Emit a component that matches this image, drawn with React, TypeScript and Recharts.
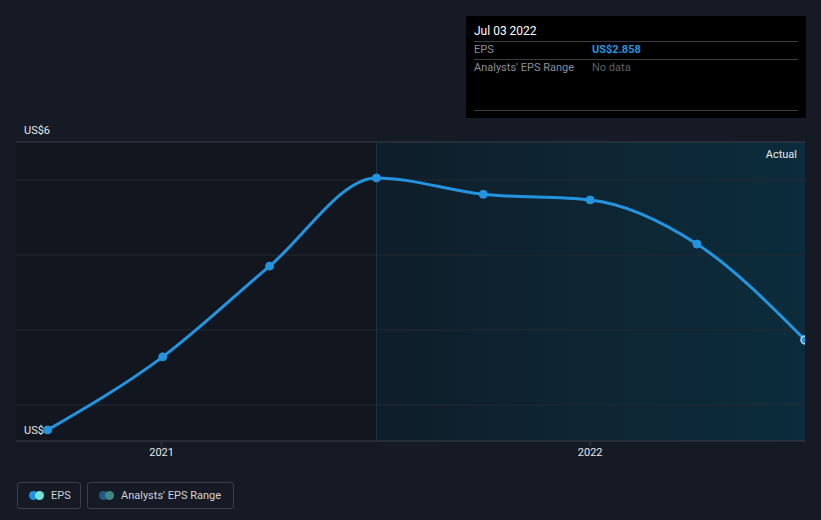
import React from "react";
import {
  ComposedChart, Line, XAxis, YAxis, ReferenceLine, ReferenceArea,
} from "recharts";

const dates = [
  "2020-09-26", "2021-01-02", "2021-04-03", "2021-07-03",
  "2021-10-02", "2022-01-01", "2022-04-02", "2022-07-03",
];
const eps = [1.43, 2.59, 4.03, 5.43, 5.17, 5.08, 4.38, 2.858];
const yearTicks = ["2021-01-01", "2022-01-01"];
const gridValues = [1.825, 3.016, 4.206, 5.397];

const ts = (d: string) => Date.parse(d + "T00:00:00Z");
const data = dates.map((d, i) => ({ t: ts(d), eps: eps[i] }));

const X_MIN = ts("2020-08-30");
const X_MAX = ts("2022-07-03");
const X_SPLIT = ts("2021-07-03");
const Y_MIN = 1.254;
const Y_MAX = 6;

const C = {
  page: "#151a24",
  past: "#12161f",
  line: "#2394df",
  grid: "#232a33",
  top: "#3a3f48",
  text: "#e6e8ea",
  dim: "#8a8f96",
};

const FONT = "Roboto, 'Open Sans', sans-serif";

function EpsDot(props: any) {
  const { cx, cy, index } = props;
  if (index === data.length - 1)
    return <circle key={`d-${index}`} cx={cx} cy={cy} r={4} fill={C.line} stroke="#a8dcf8" strokeWidth={1.5} />;
  return <circle key={`d-${index}`} cx={cx} cy={cy} r={4} fill={C.line} stroke={C.line} strokeWidth={1} />;
}

const legendBox: React.CSSProperties = {
  height: 27, border: "1px solid #3a3f4a", borderRadius: 3, boxSizing: "border-box",
  display: "flex", alignItems: "center", paddingLeft: 11, color: "#d0d3d7", whiteSpace: "nowrap",
};

function Swatch({ a, b }: { a: string; b: string }) {
  return (
    <span style={{ position: "relative", width: 16, height: 9, marginRight: 6, flex: "none" }}>
      <span style={{ position: "absolute", left: 0, top: 0, width: 9, height: 9, borderRadius: 5, background: a }} />
      <span style={{ position: "absolute", left: 6, top: 0, width: 9, height: 9, borderRadius: 5, background: b }} />
    </span>
  );
}

export default function App() {
  return (
    <div style={{ position: "absolute", left: 0, top: 0, width: 821, height: 520, background: C.page, fontFamily: FONT, overflow: "hidden" }}>
      <ComposedChart width={821} height={520} data={data} margin={{ top: 142, right: 16, bottom: 49, left: 16 }}>
        <defs>
          <linearGradient id="fut" x1="0" y1="0" x2="1" y2="0">
            <stop offset="0%" stopColor="#0f1e2a" />
            <stop offset="100%" stopColor="#0c2c3b" />
          </linearGradient>
        </defs>
        <XAxis dataKey="t" type="number" scale="time" domain={[X_MIN, X_MAX]} allowDataOverflow
          ticks={yearTicks.map(ts)} tickFormatter={(v) => String(new Date(v).getUTCFullYear())}
          height={30} tick={{ fill: C.text, fontSize: 11, fontFamily: FONT }}
          axisLine={{ stroke: C.top }} tickLine={{ stroke: C.top }} tickSize={5} />
        <YAxis hide type="number" domain={[Y_MIN, Y_MAX]} allowDataOverflow />
        <ReferenceArea x1={X_MIN} x2={X_SPLIT} y1={Y_MIN} y2={Y_MAX} fill={C.past} fillOpacity={1} stroke="none" />
        <ReferenceArea x1={X_SPLIT} x2={X_MAX} y1={Y_MIN} y2={Y_MAX} fill="url(#fut)" fillOpacity={1} stroke="none" />
        {gridValues.map((v) => (
          <ReferenceLine key={v} y={v} stroke={C.grid} strokeWidth={1} />
        ))}
        <ReferenceLine x={X_SPLIT} stroke="#173846" strokeWidth={1} />
        <ReferenceLine y={Y_MAX} stroke={C.top} strokeWidth={1}
          label={(p: any) => (
            <g>
              <text x={p.viewBox.x + 8} y={p.viewBox.y - 8} fill={C.text} fontSize={11} fontFamily={FONT}>US$6</text>
              <text x={p.viewBox.x + p.viewBox.width - 8} y={p.viewBox.y + 16} fill={C.text} fontSize={11} fontFamily={FONT} textAnchor="end">Actual</text>
            </g>
          )} />
        <ReferenceLine y={Y_MIN} stroke="none"
          label={(p: any) => (
            <text x={p.viewBox.x + 8} y={p.viewBox.y - 7} fill={C.text} fontSize={11} fontFamily={FONT}>US$1</text>
          )} />
        <Line type="monotone" dataKey="eps" stroke={C.line} strokeWidth={3} dot={EpsDot}
          activeDot={false} isAnimationActive={false} />
      </ComposedChart>

      {/* tooltip box */}
      <div style={{ position: "absolute", left: 466, top: 16, width: 340, height: 102, background: "#000", boxSizing: "border-box", padding: "0 8px", fontSize: 11 }}>
        <div style={{ color: "#fff", fontSize: 12, marginTop: 8, height: 17 }}>Jul 03 2022</div>
        <div style={{ borderTop: "1px solid #3a3d42", display: "flex", height: 17, lineHeight: "16px" }}>
          <span style={{ color: C.dim, width: 118 }}>EPS</span>
          <span style={{ color: C.line, fontWeight: 700 }}>US$2.858</span>
        </div>
        <div style={{ borderTop: "1px solid #3a3d42", display: "flex", height: 50, lineHeight: "16px" }}>
          <span style={{ color: C.dim, width: 118 }}>Analysts' EPS Range</span>
          <span style={{ color: "#5c6066" }}>No data</span>
        </div>
        <div style={{ borderTop: "1px solid #3a3d42" }} />
      </div>

      {/* legend */}
      <div style={{ position: "absolute", left: 17, top: 482, display: "flex", gap: 6, fontSize: 11 }}>
        <div style={{ ...legendBox, width: 64 }}>
          <Swatch a="#1e90e0" b="#6fe3d6" />
          EPS
        </div>
        <div style={{ ...legendBox, width: 147 }}>
          <Swatch a="#1f5a85" b="#3e8985" />
          Analysts' EPS Range
        </div>
      </div>
    </div>
  );
}
